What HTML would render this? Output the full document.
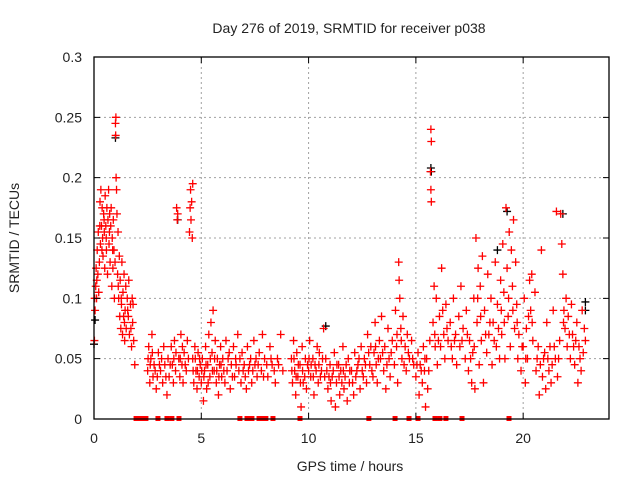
<!DOCTYPE html>
<html><head><meta charset="utf-8"><style>
html,body{margin:0;padding:0;background:#fff;}
svg{display:block;font-family:"Liberation Sans",sans-serif;}
</style></head><body>
<svg id="chart" width="640" height="480" viewBox="0 0 640 480">
<text x="349" y="33" font-size="14" text-anchor="middle" fill="#222">Day 276 of 2019, SRMTID for receiver p038</text>
<text x="350" y="471" font-size="14" text-anchor="middle" fill="#222">GPS time / hours</text>
<text transform="translate(19,238) rotate(-90)" font-size="14" text-anchor="middle" fill="#222">SRMTID / TECUs</text>
<g id="grid"></g><g id="marks"></g><g id="axes"></g>
</svg>
<script>
const xTicks=[0,5,10,15,20];
const yTicks=[0,0.05,0.1,0.15,0.2,0.25,0.3];
const yTickLabels=["0","0.05","0.1","0.15","0.2","0.25","0.3"];
const redPoints=[[0.02,0.065],[0.05,0.09],[0.08,0.11],[0.1,0.125],[0.12,0.1],[0.15,0.14],[0.18,0.12],[0.2,0.155],[0.22,0.105],[0.25,0.13],[0.28,0.18],[0.3,0.145],[0.32,0.19],[0.35,0.16],[0.38,0.175],[0.4,0.15],[0.42,0.135],[0.45,0.17],[0.48,0.155],[0.5,0.125],[0.52,0.185],[0.55,0.16],[0.58,0.14],[0.6,0.175],[0.63,0.12],[0.65,0.165],[0.68,0.19],[0.7,0.145],[0.73,0.17],[0.75,0.13],[0.78,0.16],[0.8,0.175],[0.83,0.11],[0.85,0.15],[0.88,0.125],[0.9,0.165],[0.93,0.14],[0.95,0.1],[0.98,0.13],[1.0,0.245],[1.02,0.25],[1.01,0.235],[1.03,0.2],[1.05,0.19],[1.07,0.17],[1.1,0.12],[1.12,0.155],[1.15,0.1],[1.18,0.135],[1.2,0.085],[1.22,0.115],[1.25,0.075],[1.28,0.095],[1.3,0.13],[1.33,0.07],[1.35,0.105],[1.38,0.085],[1.4,0.12],[1.43,0.065],[1.45,0.09],[1.48,0.11],[1.5,0.075],[1.55,0.1],[1.6,0.085],[1.62,0.115],[1.65,0.07],[1.7,0.095],[1.75,0.06],[1.78,0.1],[1.8,0.08],[1.85,0.065],[1.9,0.045],
[2.5,0.04],[2.55,0.06],[2.6,0.03],[2.65,0.05],[2.7,0.07],[2.75,0.035],[2.8,0.045],[2.9,0.025],[3.0,0.055],[3.1,0.04],[3.2,0.03],[3.25,0.06],[3.3,0.045],[3.4,0.02],[3.45,0.05],[3.5,0.035],[3.6,0.06],[3.65,0.045],[3.7,0.03],[3.75,0.065],[3.8,0.04],[3.85,0.175],[3.88,0.165],[3.9,0.17],[3.95,0.05],[4.0,0.035],[4.05,0.07],[4.1,0.045],[4.15,0.03],[4.2,0.055],[4.3,0.04],[4.35,0.065],[4.45,0.155],[4.48,0.175],[4.5,0.19],[4.52,0.165],[4.55,0.18],[4.58,0.15],[4.6,0.195],[4.6,0.05],[4.65,0.03],[4.7,0.06],[4.75,0.04],[4.8,0.025],[4.85,0.055],[4.9,0.035],[4.95,0.045],
[5.0,0.03],[5.05,0.05],[5.1,0.015],[5.15,0.04],[5.2,0.06],[5.25,0.025],[5.3,0.045],[5.35,0.07],[5.4,0.035],[5.45,0.08],[5.5,0.055],[5.55,0.09],[5.6,0.04],[5.65,0.065],[5.7,0.03],[5.75,0.05],[5.8,0.02],[5.85,0.045],[5.9,0.06],[5.95,0.035],[6.0,0.05],[6.1,0.03],[6.15,0.065],[6.2,0.04],[6.3,0.055],[6.35,0.025],[6.4,0.045],[6.5,0.06],[6.55,0.035],[6.6,0.05],[6.7,0.07],[6.75,0.04],[6.85,0.03],[6.9,0.055],[7.0,0.045],[7.1,0.025],[7.15,0.06],[7.2,0.04],[7.3,0.05],[7.35,0.03],[7.45,0.065],[7.5,0.045],[7.6,0.035],[7.7,0.055],[7.8,0.04],[7.85,0.07],[7.95,0.05],[8.1,0.035],[8.2,0.06],[8.3,0.045],[8.45,0.03],[8.55,0.05],[8.7,0.07],[8.8,0.04],
[9.2,0.05],[9.25,0.03],[9.3,0.065],[9.35,0.04],[9.4,0.02],[9.45,0.055],[9.5,0.035],[9.6,0.045],[9.65,0.01],[9.7,0.06],[9.75,0.03],[9.85,0.05],[9.9,0.025],[10.0,0.04],[10.05,0.065],[10.1,0.035],[10.2,0.05],[10.25,0.02],[10.3,0.045],[10.4,0.06],[10.45,0.03],[10.5,0.055],[10.6,0.04],[10.7,0.075],[10.75,0.035],[10.8,0.05],[10.9,0.025],[11.0,0.045],[11.05,0.015],[11.1,0.035],[11.2,0.055],[11.25,0.01],[11.3,0.03],[11.4,0.045],[11.45,0.02],[11.5,0.04],[11.6,0.06],[11.65,0.025],[11.7,0.035],[11.8,0.015],[11.85,0.05],[11.9,0.03],[12.0,0.04],[12.1,0.02],[12.15,0.055],[12.2,0.035],[12.3,0.045],[12.4,0.025],[12.45,0.06],[12.5,0.04],[12.6,0.05],[12.7,0.03],[12.75,0.07],[12.85,0.045],[12.9,0.06],
[13.0,0.035],[13.05,0.055],[13.1,0.08],[13.15,0.045],[13.2,0.03],[13.3,0.065],[13.35,0.05],[13.4,0.085],[13.5,0.04],[13.55,0.06],[13.6,0.025],[13.7,0.075],[13.75,0.05],[13.8,0.035],[13.9,0.065],[14.0,0.045],[14.05,0.09],[14.1,0.06],[14.15,0.03],[14.2,0.13],[14.22,0.115],[14.25,0.1],[14.3,0.075],[14.35,0.05],[14.4,0.085],[14.5,0.06],[14.55,0.04],[14.6,0.07],[14.7,0.05],[14.8,0.065],[14.9,0.045],[15.0,0.035],[15.1,0.055],[15.15,0.02],[15.2,0.045],[15.3,0.03],[15.35,0.06],[15.4,0.04],[15.45,0.01],[15.5,0.05],[15.55,0.025],[15.65,0.065],[15.7,0.24],[15.72,0.23],[15.68,0.205],[15.7,0.19],[15.72,0.18],[15.8,0.08],[15.85,0.11],[15.9,0.06],[15.95,0.1],[16.0,0.045],[16.1,0.085],[16.15,0.06],[16.2,0.125],[16.3,0.07],[16.35,0.05],[16.4,0.095],[16.5,0.065],
[16.6,0.08],[16.7,0.05],[16.75,0.1],[16.8,0.065],[16.9,0.045],[17.0,0.085],[17.05,0.06],[17.1,0.11],[17.2,0.075],[17.3,0.05],[17.35,0.09],[17.45,0.04],[17.5,0.065],[17.6,0.03],[17.65,0.055],[17.7,0.1],[17.75,0.025],[17.8,0.15],[17.85,0.08],[17.9,0.125],[17.95,0.045],[18.0,0.11],[18.05,0.065],[18.1,0.135],[18.15,0.03],[18.2,0.09],[18.3,0.055],[18.35,0.12],[18.4,0.07],[18.5,0.1],[18.55,0.045],[18.6,0.08],[18.7,0.13],[18.75,0.06],[18.8,0.095],[18.9,0.05],[18.95,0.115],
[19.0,0.07],[19.05,0.145],[19.1,0.105],[19.15,0.05],[19.2,0.175],[19.25,0.125],[19.3,0.085],[19.35,0.155],[19.4,0.06],[19.45,0.14],[19.5,0.11],[19.55,0.165],[19.6,0.075],[19.65,0.13],[19.7,0.095],[19.75,0.05],[19.8,0.07],[19.9,0.04],[20.0,0.06],[20.05,0.1],[20.1,0.03],[20.15,0.075],[20.2,0.05],[20.3,0.115],[20.35,0.09],[20.4,0.12],[20.45,0.065],[20.55,0.105],[20.6,0.04],[20.7,0.06],[20.75,0.02],[20.8,0.045],[20.85,0.14],[20.9,0.035],[21.0,0.055],[21.05,0.025],[21.1,0.08],[21.2,0.04],[21.25,0.06],[21.3,0.03],[21.4,0.09],[21.5,0.05],[21.55,0.172],[21.6,0.035],[21.7,0.065],[21.75,0.17],[21.8,0.145],[21.85,0.12],[21.9,0.09],[21.95,0.075],[22.0,0.1],[22.05,0.06],[22.1,0.085],[22.2,0.05],[22.25,0.095],[22.3,0.07],[22.4,0.045],[22.5,0.08],[22.55,0.03],[22.6,0.06],[22.7,0.04],[22.75,0.09],[22.8,0.055],[22.85,0.075],
[0.03,0.1],[0.13,0.115],[0.27,0.16],[0.37,0.14],[0.47,0.165],[0.57,0.15],[0.72,0.155],[0.87,0.14],[1.13,0.11],[1.27,0.1],[1.42,0.08],[1.57,0.09],[1.72,0.075],[1.82,0.095],
[2.52,0.05],[2.62,0.045],[2.72,0.055],[2.85,0.04],[2.95,0.035],[3.05,0.045],[3.15,0.05],[3.35,0.035],[3.55,0.045],[3.72,0.05],[3.82,0.055],[4.02,0.05],[4.12,0.06],[4.25,0.045],[4.4,0.05],[4.62,0.04],[4.72,0.05],[4.82,0.04],[4.92,0.05],
[5.02,0.04],[5.12,0.035],[5.22,0.045],[5.32,0.03],[5.42,0.05],[5.52,0.04],[5.62,0.05],[5.72,0.04],[5.82,0.035],[5.92,0.045],[6.05,0.04],[6.25,0.05],[6.45,0.035],[6.62,0.045],[6.8,0.05],[6.95,0.04],[7.05,0.035],[7.25,0.045],[7.4,0.04],[7.55,0.05],[7.65,0.045],[7.9,0.035],[8.05,0.045],[8.25,0.05],[8.4,0.04],[8.6,0.045],
[9.22,0.04],[9.32,0.05],[9.42,0.035],[9.52,0.045],[9.62,0.03],[9.72,0.04],[9.82,0.035],[9.95,0.045],[10.02,0.05],[10.12,0.045],[10.22,0.035],[10.35,0.04],[10.48,0.045],[10.55,0.035],[10.65,0.05],[10.85,0.04],[10.95,0.035],[11.02,0.03],[11.15,0.04],[11.32,0.045],[11.42,0.035],[11.55,0.03],[11.62,0.04],[11.75,0.045],[11.92,0.04],[12.05,0.03],[12.25,0.04],[12.35,0.05],[12.55,0.035],[12.65,0.045],[12.8,0.055],[12.95,0.04],
[13.12,0.06],[13.25,0.05],[13.45,0.055],[13.65,0.045],[13.85,0.055],[14.12,0.07],[14.32,0.065],[14.45,0.045],[14.65,0.055],[14.85,0.05],[15.05,0.045],[15.25,0.04],[15.42,0.05],[15.6,0.04],[15.88,0.07],[16.05,0.065],[16.25,0.09],[16.45,0.075],
[16.65,0.06],[16.85,0.07],[17.15,0.065],[17.4,0.07],[17.55,0.05],[17.72,0.06],[17.88,0.1],[18.02,0.085],[18.25,0.07],[18.45,0.08],[18.65,0.065],[18.85,0.075],[18.98,0.09],[19.12,0.08],[19.32,0.1],[19.52,0.09],[19.72,0.08],[19.95,0.06],[20.12,0.05],[20.25,0.085],[20.42,0.08],[20.65,0.05],[20.95,0.05],[21.15,0.05],[21.35,0.045],[21.45,0.06],[21.65,0.05],[21.88,0.08],[22.15,0.07],[22.35,0.06],[22.45,0.065],[22.65,0.05],[22.9,0.065]];
const blackPoints=[[0.0,0.062],[0.05,0.082],[1.0,0.233],[3.9,0.165],[10.8,0.077],[15.7,0.208],[15.72,0.205],[18.8,0.14],[19.25,0.172],[21.85,0.17],[22.9,0.097],[22.9,0.09]];
const zeroSquares=[1.96,2.19,2.42,2.98,3.40,3.63,3.96,6.80,7.13,7.36,7.69,7.88,8.01,8.34,9.60,12.81,14.03,14.68,15.10,15.89,16.12,16.40,17.15,19.34];

const L=94,R=609,T=57,B=419,XMAX=24,YMAX=0.3;
const sx=v=>L+(R-L)*v/XMAX;
const sy=v=>B-(B-T)*v/YMAX;
const NS="http://www.w3.org/2000/svg";
function mk(tag,attrs,parent){const e=document.createElementNS(NS,tag);for(const k in attrs)e.setAttribute(k,attrs[k]);parent.appendChild(e);return e;}
const grid=document.getElementById('grid'),marks=document.getElementById('marks'),axes=document.getElementById('axes');
xTicks.forEach(t=>{
  if(t>0){const g=mk('line',{x1:sx(t),x2:sx(t),y1:T,y2:B,stroke:'#a0a0a0','stroke-dasharray':'2,3','stroke-width':1},grid);
  
  }
  const tk=mk('path',{d:`M${sx(t)},${B}v-6M${sx(t)},${T}v6`,stroke:'#000'},axes);
  
  
  const tx=mk('text',{x:sx(t),y:B+24,'font-size':14,'text-anchor':'middle',fill:'#222'},axes);tx.textContent=String(t);
  
  
});
yTicks.forEach((t,i)=>{
  if(t>0&&t<YMAX){const g=mk('line',{x1:L,x2:R,y1:sy(t),y2:sy(t),stroke:'#a0a0a0','stroke-dasharray':'2,3','stroke-width':1},grid);
  
  }
  const tk=mk('path',{d:`M${L},${sy(t)}h6M${R},${sy(t)}h-6`,stroke:'#000'},axes);
  
  
  const tx=mk('text',{x:L-12,y:sy(t)+5,'font-size':14,'text-anchor':'end',fill:'#222'},axes);tx.textContent=yTickLabels[i];
  
  
});
const frame=mk('rect',{x:L,y:T,width:R-L,height:B-T,fill:'none',stroke:'#000','stroke-width':1.3},axes);


function plus(p,color,name){
  const x=sx(p[0]),y=sy(p[1]);
  const m=mk('path',{d:`M${x-4},${y}h8M${x},${y-4}v8`,stroke:color,'stroke-width':1.3},marks);
  
  
}
blackPoints.forEach(p=>plus(p,'#000','black-point'));
redPoints.forEach(p=>plus(p,'#ff0000','srmtid-point'));
zeroSquares.forEach(h=>{
  const s=mk('rect',{x:sx(h)-2.5,y:B-3,width:5,height:5,fill:'#ff0000'},marks);
  
  
});
</script>
</body></html>
